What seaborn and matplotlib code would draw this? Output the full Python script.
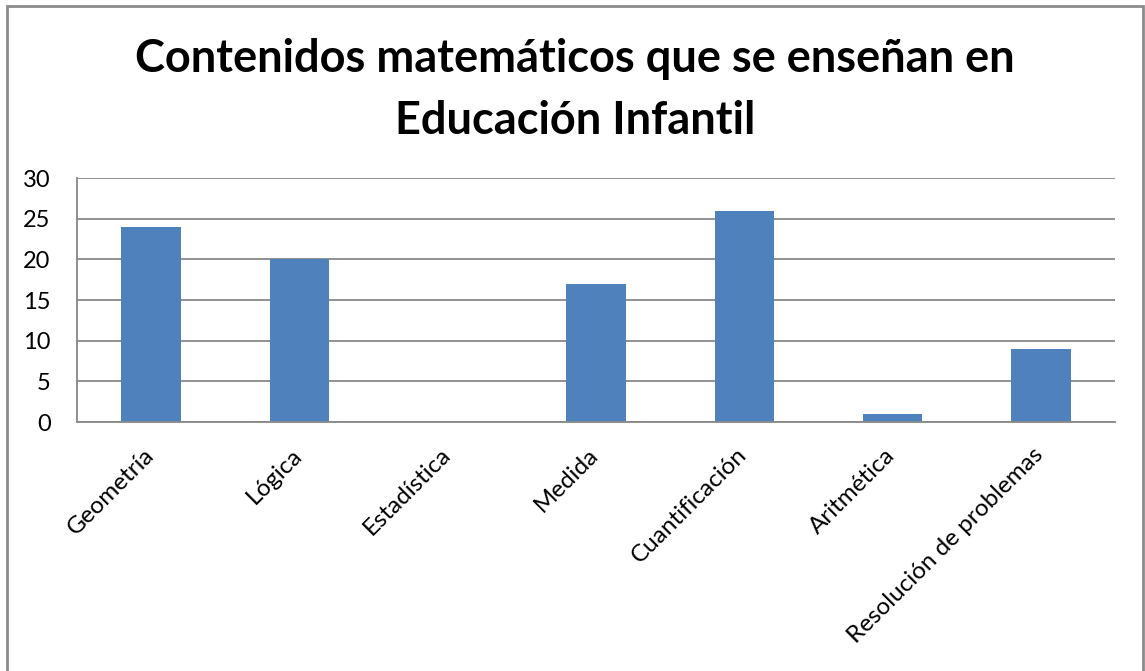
import matplotlib
matplotlib.use("Agg")
import matplotlib.pyplot as plt
import seaborn as sns
import pandas as pd
from matplotlib.patches import Rectangle

categories = ["Geometría", "Lógica", "Estadística", "Medida", "Cuantificación",
              "Aritmética", "Resolución de problemas"]
values = [24, 20, 0, 17, 26, 1, 9]
yticks = [0, 5, 10, 15, 20, 25, 30]
title = "Contenidos matemáticos que se enseñan en\nEducación Infantil"

sns.set_style("white")
plt.rcParams['font.family'] = ['Lato', 'DejaVu Sans']
plt.rcParams['text.color'] = 'black'
plt.rcParams['xtick.labelcolor'] = 'black'
plt.rcParams['ytick.labelcolor'] = 'black'

df = pd.DataFrame({"cat": categories, "val": values})

fig = plt.figure(figsize=(11.45, 6.71), dpi=100)
ax = fig.add_axes([0.0672, 0.371, 0.9066, 0.3636])
sns.barplot(data=df, x="cat", y="val", color="#4F81BD", saturation=1,
            width=0.4, ax=ax, edgecolor="none")

grid_c = "#888888"
ax.set_ylim(0, 30)
ax.set_xlim(-0.5, len(categories) - 0.5)
ax.set_yticks(yticks)
ax.set_yticklabels([str(t) for t in yticks], fontsize=17, color="black")
ax.yaxis.grid(True, color=grid_c, linewidth=1.3)
ax.set_axisbelow(True)
ax.set_xticks([i + 0.5 for i in range(-1, len(categories))], minor=False)
ax.set_xticklabels([])
# label anchors nudged slightly left of each category centre
ax.set_xticks([i - 0.055 for i in range(len(categories))], minor=True)
ax.set_xticklabels(categories, minor=True, rotation=45, ha="right",
                   rotation_mode="anchor", fontsize=17.5, color="black")
ax.tick_params(axis="x", which="major", length=8, width=1.3, color=grid_c, direction="out")
ax.tick_params(axis="x", which="minor", length=0, pad=16)
ax.tick_params(axis="y", length=8, width=1.3, color=grid_c, direction="out", pad=11)
for s in ["top", "right"]:
    ax.spines[s].set_visible(False)
for s in ["left", "bottom"]:
    ax.spines[s].set_color(grid_c)
    ax.spines[s].set_linewidth(1.3)
ax.set_xlabel("")
ax.set_ylabel("")

fig.text(0.502, 0.866, title, ha="center", va="center", fontsize=32.5,
         fontweight="bold", linespacing=1.6, color="black")

fig.patches.append(Rectangle((7 / 1145, -0.01), 1136 / 1145, 1 - 6 / 671 + 0.01,
                             transform=fig.transFigure, fill=False,
                             edgecolor="#8c8c8c", linewidth=2))

fig.savefig("out.png", dpi=100)
